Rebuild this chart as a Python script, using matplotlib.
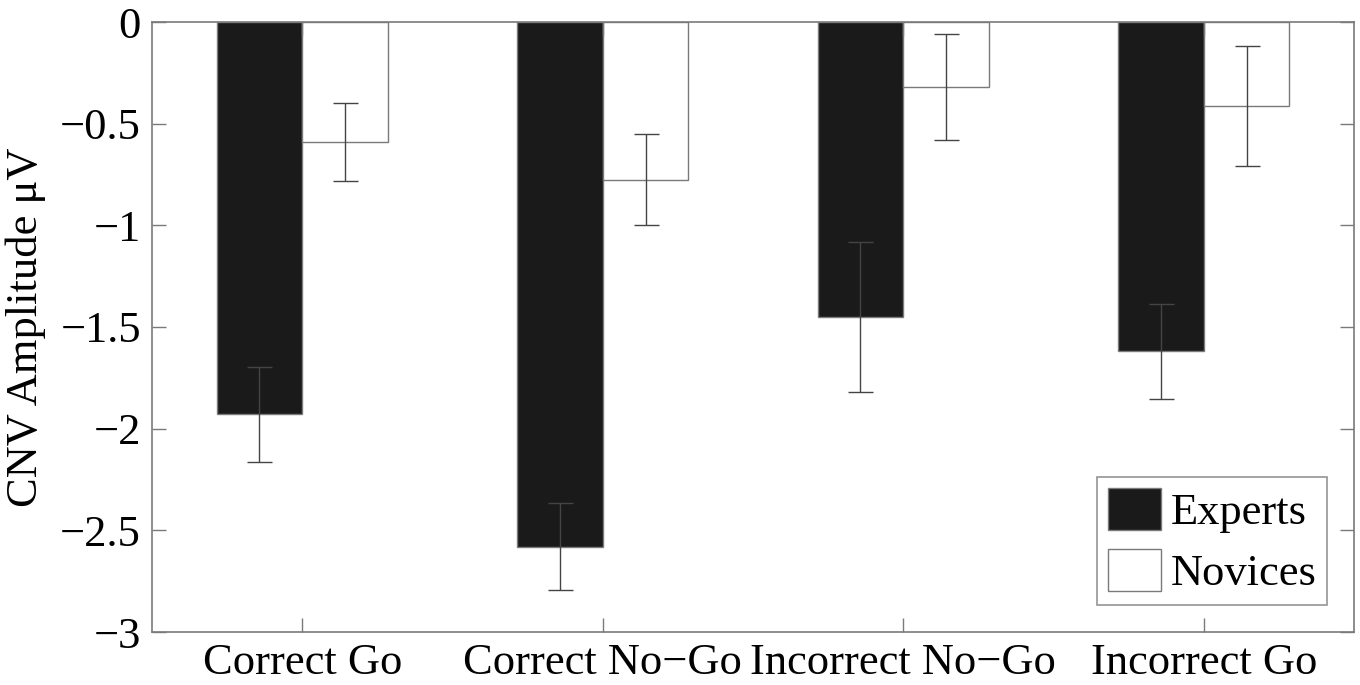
import matplotlib
matplotlib.use('Agg')
import matplotlib.pyplot as plt
import numpy as np

# values
conditions = ['Correct Go', 'Correct No\u2212Go', 'Incorrect No\u2212Go', 'Incorrect Go']
experts = [-1.93, -2.58, -1.45, -1.62]
experts_err = [0.235, 0.215, 0.37, 0.235]
novices = [-0.59, -0.775, -0.32, -0.415]
novices_err = [0.19, 0.225, 0.26, 0.295]

plt.rcParams['font.family'] = ['Liberation Serif', 'DejaVu Serif']
plt.rcParams['axes.unicode_minus'] = True

fig = plt.figure(figsize=(13.6, 6.85), dpi=100)
ax = fig.add_axes([152 / 1360, 1 - 632 / 685, (1354 - 152) / 1360, (632 - 22) / 685])

x = np.arange(1, len(conditions) + 1)
w = 0.285
edge = '#7a7a7a'
ax.bar(x - w / 2, experts, w, color='#1a1a1a', edgecolor=edge, linewidth=1, label='Experts')
ax.bar(x + w / 2, novices, w, color='white', edgecolor=edge, linewidth=1, label='Novices')
ax.errorbar(x - w / 2, experts, yerr=experts_err, fmt='none', ecolor='#444444',
            elinewidth=1, capsize=9, capthick=1)
ax.errorbar(x + w / 2, novices, yerr=novices_err, fmt='none', ecolor='#444444',
            elinewidth=1, capsize=9, capthick=1)

ax.set_xlim(0.5, 4.5)
ax.set_ylim(-3, 0)
ax.set_xticks(x)
ax.set_xticklabels(conditions)
ax.set_yticks(np.arange(-3, 0.01, 0.5))
ax.set_yticklabels(['\u22123', '\u22122.5', '\u22122', '\u22121.5', '\u22121', '\u22120.5', '0'])
ax.tick_params(direction='in', top=True, right=True, length=10, width=1, color=edge,
               labelsize=32, pad=8)
for s in ax.spines.values():
    s.set_color(edge)
    s.set_linewidth(1.2)
ax.set_ylabel('CNV Amplitude \u03bcV', fontsize=32, labelpad=10)

leg = ax.legend(loc='lower right', fontsize=32, frameon=True, fancybox=False,
                handlelength=1.2, handleheight=1.1, handletextpad=0.2,
                borderpad=0.25, labelspacing=0.35, borderaxespad=0.6)
leg.get_frame().set_edgecolor(edge)
leg.get_frame().set_linewidth(1.2)

fig.savefig('out.png', dpi=100)
